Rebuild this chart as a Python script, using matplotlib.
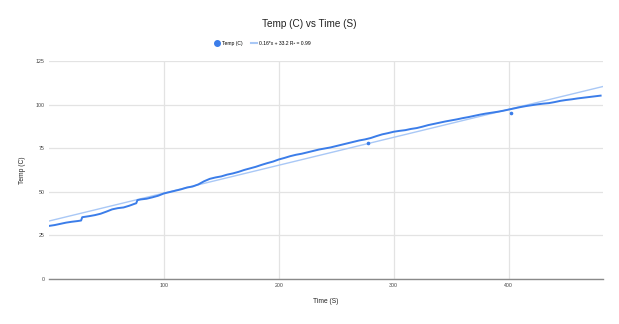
import matplotlib.pyplot as plt
import numpy as np

# temperature log (seconds, deg C)
time_s = [0, 5, 10, 15, 20, 25, 28, 29, 35, 40, 45, 50, 55, 60, 65, 70, 75, 76, 77,
          80, 85, 90, 95, 100, 105, 110, 115, 120, 125, 130, 135, 140, 145, 150,
          155, 160, 165, 170, 175, 180, 185, 190, 195, 200, 205, 210, 215, 220,
          225, 230, 235, 240, 245, 250, 255, 260, 265, 270, 275, 280, 285, 290,
          295, 300, 305, 310, 315, 320, 325, 330, 335, 340, 345, 350, 355, 360,
          365, 370, 375, 380, 385, 390, 395, 400, 405, 410, 415, 420, 425, 430,
          435, 440, 445, 450, 455, 460, 465, 470, 475, 480]
temp_c = [30.4, 30.9, 31.6, 32.3, 32.8, 33.2, 33.5, 35.4, 36.0, 36.6, 37.4, 38.6,
          39.9, 40.6, 41.0, 42.0, 43.2, 43.4, 45.2, 45.6, 46.0, 46.8, 47.7, 49.0,
          49.8, 50.6, 51.4, 52.4, 53.0, 54.2, 56.0, 57.4, 58.2, 58.8, 59.8, 60.5,
          61.4, 62.5, 63.4, 64.3, 65.4, 66.4, 67.3, 68.5, 69.4, 70.4, 71.2, 71.8,
          72.6, 73.4, 74.2, 74.8, 75.4, 76.2, 77.0, 77.8, 78.6, 79.4, 80.0, 80.8,
          81.9, 82.9, 83.6, 84.4, 84.9, 85.3, 86.0, 86.5, 87.3, 88.2, 88.9, 89.6,
          90.3, 90.9, 91.5, 92.2, 92.8, 93.5, 94.2, 94.8, 95.3, 95.8, 96.4, 97.1,
          97.8, 98.5, 99.1, 99.6, 100.1, 100.5, 100.8, 101.4, 102.1, 102.6, 103.0,
          103.5, 103.9, 104.3, 104.7, 105.1]

# a couple of low readings off the main run
stray_time = [278, 402]
stray_temp = [78.1, 95.3]

# linear fit as reported
slope = 0.16
intercept = 33.2
r_squared = 0.99

x_max = 482
x_ticks = [100, 200, 300, 400]
y_ticks = [0, 25, 50, 75, 100, 125]

blue = '#3b7de9'
trend_blue = '#a9c8f6'

plt.rcParams['font.family'] = ['Liberation Sans', 'DejaVu Sans']

fig = plt.figure(figsize=(6.19, 3.24), dpi=100)
ax = fig.add_axes([0.079, 0.139, 0.895, 0.673])

trend_x = np.array([0, x_max])
ax.plot(trend_x, slope * trend_x + intercept, color=trend_blue, lw=1.0, zorder=2,
        label=f'{slope}*x + {intercept} R² = {r_squared}')
ax.plot(time_s, temp_c, color=blue, lw=1.4, zorder=3, label='Temp (C)')
ax.plot(stray_time, stray_temp, 'o', color=blue, ms=1.6, zorder=3)

ax.set_xlim(0, x_max)
ax.set_ylim(0, 125)
ax.set_xticks(x_ticks)
ax.set_yticks(y_ticks)
ax.grid(True, color='#e3e3e3', lw=0.9)
ax.set_axisbelow(True)
for side in ['top', 'right', 'left']:
    ax.spines[side].set_visible(False)
ax.spines['bottom'].set_color('#8a8a8a')
ax.spines['bottom'].set_linewidth(1.0)
ax.tick_params(axis='x', length=0, labelsize=3.8, colors='#444444', pad=3)
ax.tick_params(axis='y', length=0, labelsize=3.8, colors='#444444', pad=3)

ax.set_xlabel('Time (S)', fontsize=4.8, color='#222222', labelpad=7)
ax.set_ylabel('Temp (C)', fontsize=4.8, color='#222222', labelpad=7)
fig.suptitle('Temp (C) vs Time (S)', fontsize=7.2, color='#222222', y=0.94)

handles, labels = ax.get_legend_handles_labels()
leg = fig.legend(handles[::-1], labels[::-1], loc='center', bbox_to_anchor=(0.424, 0.865),
                 ncol=2, frameon=False, fontsize=3.6, handlelength=1.2,
                 columnspacing=1.6, handletextpad=0.5)
leg.legend_handles[0].set_linestyle('none')
leg.legend_handles[0].set_marker('o')
leg.legend_handles[0].set_markersize(4)
leg.legend_handles[1].set_linewidth(1.5)

fig.savefig('out.png', dpi=100)
